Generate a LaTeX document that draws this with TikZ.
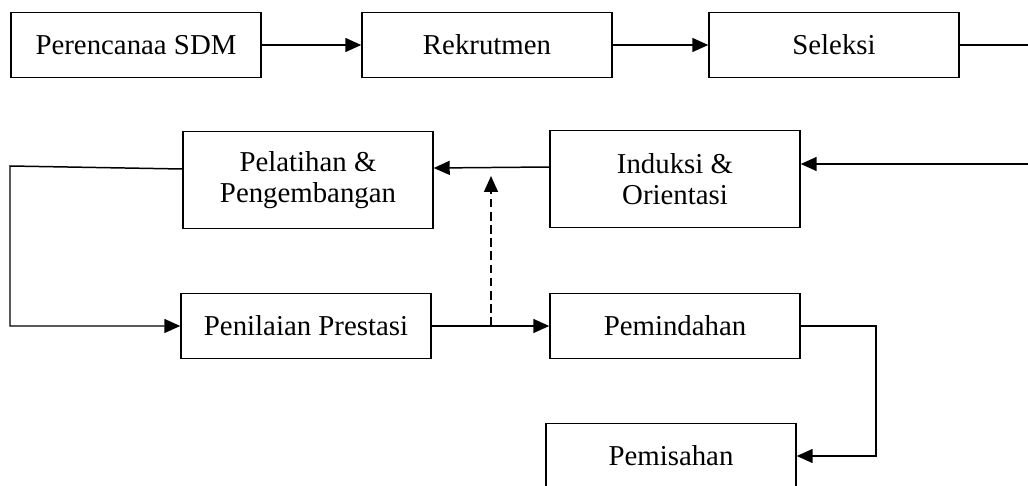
\documentclass[tikz,border=0pt]{standalone}
\usepackage{fontspec}
\setmainfont{Liberation Serif}
\usetikzlibrary{positioning, arrows.meta}

\begin{document}
\begin{tikzpicture}[x=0.02cm, y=-0.02cm,
kotak/.style={rectangle, draw, line width=0.85pt, minimum width=5cm, minimum height=1.3cm, font=\fontsize{16.4}{17.8}\selectfont, align=center},
kotakbesar/.style={kotak, minimum height=1.94cm},
panah/.style={line width=0.85pt, -{Triangle[length=0.32cm, width=0.28cm]}}
]
\useasboundingbox (0,0) rectangle (1028,486);
\clip (0,0) rectangle (1028,486);
\node[kotak]      (perencanaan) at (136, 45)  {Perencanaa SDM};
\node[kotak]      (rekrutmen)   at (487, 45)  {Rekrutmen};
\node[kotak]      (seleksi)     at (834, 45)  {Seleksi};
\node[kotakbesar] (pelatihan)   at (308, 180) {Pelatihan \&\\Pengembangan};
\node[kotakbesar] (induksi)     at (675, 179) {Induksi \&\\Orientasi};
\node[kotak]      (penilaian)   at (306, 326) {Penilaian Prestasi};
\node[kotak]      (pemindahan)  at (675, 326) {Pemindahan};
\node[kotak]      (pemisahan)   at (671, 456) {Pemisahan};

\coordinate (kananAtas) at (1028, 45);
\coordinate (kananTengah) at (1028, 164);
\coordinate (kiriAtas) at (10, 166);
\coordinate (cabang) at (491, 326);
\coordinate (ujung) at (491, 176);
\coordinate (belok) at (876, 326);

\path[panah] (perencanaan) edge (rekrutmen);
\path[panah] (rekrutmen) edge (seleksi);
\draw[line width=0.85pt] (seleksi.east) -- (kananAtas);
\path[panah, draw] (kananTengah) -- (induksi.east |- kananTengah);
\path[panah, draw] ([yshift=0.24cm]induksi.west) -- ([yshift=0.24cm]pelatihan.east);
\path[panah, draw] ([yshift=0.22cm]pelatihan.west) -- (kiriAtas) |- (penilaian.west);
\path[panah, draw] (penilaian.east) -- (pemindahan.west);
\path[panah, draw, dash pattern=on 5pt off 2.5pt] (cabang) -- (ujung);
\path[panah, draw] (pemindahan.east) -- (belok) |- (pemisahan.east);
\end{tikzpicture}
\end{document}
